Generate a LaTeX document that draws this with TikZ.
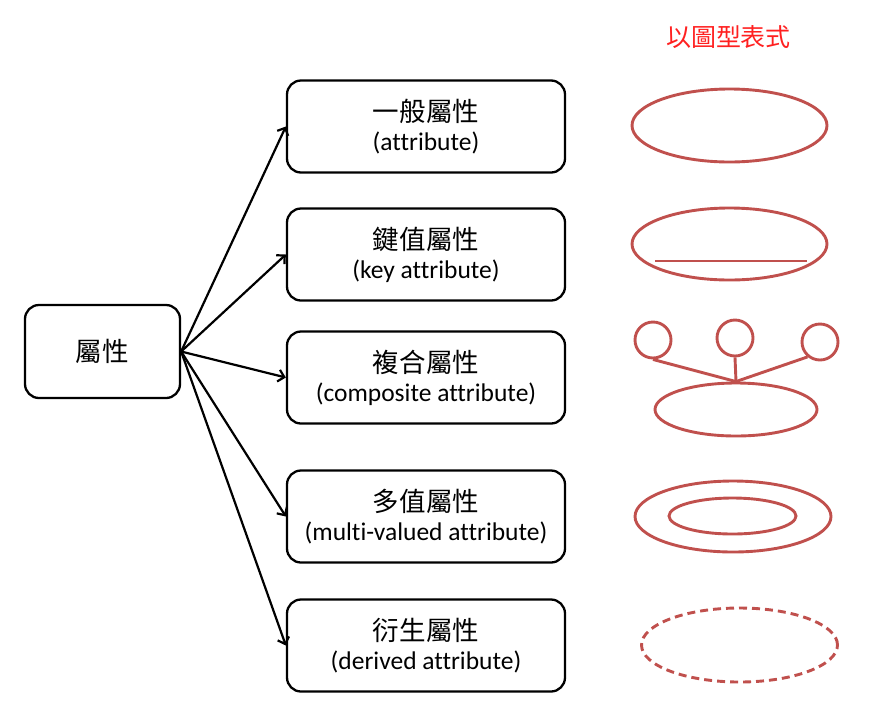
\documentclass[tikz,border=0pt]{standalone}
\usepackage{fontspec}
\setmainfont{Carlito}[Ligatures=NoCommon]
\newfontfamily\cjk{Noto Sans CJK TC}[Scale=1.04]
\usetikzlibrary{arrows.meta,shapes.geometric,calc}
\definecolor{ered}{HTML}{C0504D}
\definecolor{tred}{HTML}{FF2020}
\tikzset{
  box/.style={draw=black, line width=2.3pt, rounded corners=14pt, minimum width=278pt, minimum height=92pt, align=center, inner sep=0pt, font=\fontsize{25.5}{29}\selectfont},
  lbox/.style={box, minimum width=155pt, minimum height=93pt},
  conn/.style={line width=2.2pt, -{Straight Barb[length=6pt,width=12pt,line width=2.2pt]}},
  ell/.style={draw=ered, line width=2.9pt, ellipse, inner sep=0pt},
  circ/.style={draw=ered, line width=2.9pt, circle, inner sep=0pt, minimum size=36pt},
  eline/.style={draw=ered, line width=2.9pt},
}
\begin{document}
\begin{tikzpicture}[x=1pt,y=-1pt]
\useasboundingbox (0,0) rectangle (885,713);
% title
\node[text=tred, font=\cjk\fontsize{24}{28}\selectfont, inner sep=0pt] (title) at (728.5,37) {以圖型表式};
% left box
\node[lbox] (attr) at (102.5,351.5) {{\cjk 屬性}};
% right boxes
\node[box] (b1) at (426,126.5) {{\cjk 一般屬性}\\(attribute)};
\node[box] (b2) at (426,254.5) {{\cjk 鍵值屬性}\\(key attribute)};
\node[box] (b3) at (426,377.5) {{\cjk 複合屬性}\\(composite attribute)};
\node[box] (b4) at (426,516.5) {{\cjk 多值屬性}\\(multi-valued attribute)};
\node[box] (b5) at (426,645.5) {{\cjk 衍生屬性}\\(derived attribute)};
% connectors
\foreach \b in {b1,b2,b3,b4,b5}
  \draw[conn] (attr.east) -- (\b.west);
% ellipse symbols
\node[ell, minimum width=195pt, minimum height=73pt] (e1) at (729.5,125.5) {};
\node[ell, minimum width=195pt, minimum height=72pt] (e2) at (729.5,244) {};
\draw[eline] ($(e2.center)+(-74.5,17)$) -- ($(e2.center)+(77.5,17)$);
\node[ell, minimum width=162pt, minimum height=53pt] (e3) at (736,409.5) {};
\node[circ] (c1) at (653,340) {};
\node[circ] (c2) at (735,338) {};
\node[circ] (c3) at (820,342) {};
\draw[eline] (c1.south) -- (e3.north);
\draw[eline] (c2.south) -- (e3.north);
\draw[eline] (c3.230) -- (e3.north);
\node[ell, minimum width=196pt, minimum height=71pt] (e4) at (733,516.5) {};
\node[ell, minimum width=127pt, minimum height=36pt] (e4i) at (732.5,516) {};
\node[ell, dash pattern=on 8pt off 5pt, minimum width=196pt, minimum height=74pt] (e5) at (739.5,645) {};
\end{tikzpicture}
\end{document}
